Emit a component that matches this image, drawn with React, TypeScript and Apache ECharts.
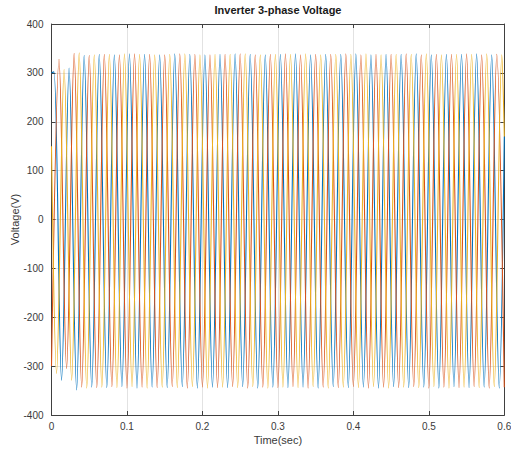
import React, { useEffect, useRef } from "react";
import * as echarts from "echarts";

// Time window and sampling of the waveform extremes (peaks / troughs)
const timeStart = 0;
const timeEnd = 0.6;
const halfPeriod = 0.01; // 50 Hz -> extremes every 10 ms

const xTicks = ["0", "0.1", "0.2", "0.3", "0.4", "0.5", "0.6"];
const yTicks = [-400, -300, -200, -100, 0, 100, 200, 300, 400];

// Phase A (blue)
const phaseAStartValue = 300;
const phaseAFirstExtremeTime = 0.0033;
const phaseAExtremes = [302, -329, 310, -349, 336, -343, 338, -344, 337, -342, 339, -345, 338, -343, 337, -344, 339, -342, 338, -345, 337, -343, 338, -344, 339, -342, 338, -345, 337, -343, 338, -344, 339, -343, 337, -345, 338, -342, 338, -344, 339, -343, 337, -345, 338, -342, 338, -344, 339, -343, 337, -345, 338, -342, 338, -344, 339, -343, 337, -345];
const phaseAEndValue = 170;

// Phase B (orange)
const phaseBStartValue = -300;
const phaseBFirstExtremeTime = 0.0;
const phaseBExtremes = [-300, 328, -305, 340, -343, 336, -344, 338, -342, 337, -345, 339, -343, 338, -344, 337, -342, 339, -345, 338, -343, 337, -344, 338, -342, 339, -345, 337, -343, 338, -344, 339, -342, 337, -345, 338, -343, 338, -344, 339, -342, 337, -345, 338, -343, 338, -344, 339, -342, 337, -345, 338, -343, 338, -344, 339, -342, 337, -345, 338, -343];
const phaseBEndValue = -343;

// Phase C (yellow)
const phaseCStartValue = 150;
const phaseCFirstExtremeTime = 0.0067;
const phaseCExtremes = [-315, 307, -329, 341, -345, 337, -343, 338, -344, 339, -342, 338, -345, 337, -343, 338, -344, 339, -342, 337, -345, 338, -343, 338, -344, 339, -342, 337, -345, 338, -343, 338, -344, 339, -342, 337, -345, 338, -343, 338, -344, 339, -342, 337, -345, 338, -343, 338, -344, 339, -342, 337, -345, 338, -343, 338, -344, 339, -342, 337];
const phaseCEndValue = 170;

function buildSeriesData(startValue: number, firstTime: number, extremes: number[], endValue: number) {
  const pts: [number, number][] = [];
  if (firstTime > timeStart + 1e-9) pts.push([timeStart, startValue]);
  extremes.forEach((v, i) => {
    const t = +(firstTime + i * halfPeriod).toFixed(5);
    if (t <= timeEnd + 1e-9) pts.push([t, v]);
  });
  if (pts[pts.length - 1][0] < timeEnd - 1e-9) pts.push([timeEnd, endValue]);
  return pts;
}

const FONT = "'Liberation Sans', Arial, Helvetica, sans-serif";
const AXIS_COLOR = "#404040";
const LABEL_COLOR = "#3a3a3a";
const GRID_COLOR = "#e2e2e2";

export default function App() {
  const ref = useRef<HTMLDivElement>(null);

  useEffect(() => {
    if (!ref.current) return;
    const chart = echarts.init(ref.current, undefined, { renderer: "svg" });

    const lineStyleBase = { width: 1.1 };
    const grid = { left: 51.5, right: 6.7, top: 24, bottom: 36, containLabel: false, outerBoundsMode: "none" };

    const baseX = {
      type: "value",
      min: 0,
      max: 0.6,
      interval: 0.1,
      axisLine: { show: true, onZero: false, lineStyle: { color: AXIS_COLOR, width: 1 } },
      axisTick: { show: true, inside: true, length: 4, lineStyle: { color: AXIS_COLOR } },
    };
    const baseY = {
      type: "value",
      min: -400,
      max: 400,
      interval: 100,
      axisLine: { show: true, onZero: false, lineStyle: { color: AXIS_COLOR, width: 1 } },
      axisTick: { show: true, inside: true, length: 4, lineStyle: { color: AXIS_COLOR } },
    };

    chart.setOption({
      animation: false,
      backgroundColor: "#ffffff",
      grid,
      graphic: [
        {
          type: "text",
          x: 278,
          y: 10,
          style: {
            text: "Inverter 3-phase Voltage",
            font: `bold 11px ${FONT}`,
            fill: "#1a1a1a",
            align: "center",
            verticalAlign: "middle",
          },
        },
      ],
      xAxis: [
        {
          ...baseX,
          position: "bottom",
          name: "Time(sec)",
          nameLocation: "middle",
          nameGap: 19,
          nameMoveOverlap: false,
          nameTextStyle: { fontFamily: FONT, fontSize: 11, color: LABEL_COLOR },
          axisLabel: {
            fontFamily: FONT,
            fontSize: 10,
            color: LABEL_COLOR,
            margin: 6,
            formatter: (v: number) => xTicks[Math.round(v * 10)] ?? "",
          },
          splitLine: { show: true, lineStyle: { color: GRID_COLOR, width: 1 } },
        },
        {
          ...baseX,
          position: "top",
          axisLabel: { show: false },
          splitLine: { show: false },
        },
      ],
      yAxis: [
        {
          ...baseY,
          position: "left",
          name: "Voltage(V)",
          nameLocation: "middle",
          nameGap: 31,
          nameMoveOverlap: false,
          nameTextStyle: { fontFamily: FONT, fontSize: 11, color: LABEL_COLOR },
          axisLabel: {
            fontFamily: FONT,
            fontSize: 10,
            color: LABEL_COLOR,
            margin: 8,
            formatter: (v: number) => (yTicks.includes(v) ? String(v) : ""),
          },
          splitLine: { show: true, lineStyle: { color: GRID_COLOR, width: 1 } },
        },
        {
          ...baseY,
          position: "right",
          axisLabel: { show: false },
          splitLine: { show: false },
        },
      ],
      series: [
        {
          name: "Va",
          type: "line",
          data: buildSeriesData(phaseAStartValue, phaseAFirstExtremeTime, phaseAExtremes, phaseAEndValue),
          showSymbol: false,
          smooth: 0.33,
          lineStyle: { ...lineStyleBase, color: "#0072BD" },
          xAxisIndex: 0,
          yAxisIndex: 0,
          clip: true,
        },
        {
          name: "Vb",
          type: "line",
          data: buildSeriesData(phaseBStartValue, phaseBFirstExtremeTime, phaseBExtremes, phaseBEndValue),
          showSymbol: false,
          smooth: 0.33,
          lineStyle: { ...lineStyleBase, color: "#D95319" },
          xAxisIndex: 0,
          yAxisIndex: 0,
          clip: true,
        },
        {
          name: "Vc",
          type: "line",
          data: buildSeriesData(phaseCStartValue, phaseCFirstExtremeTime, phaseCExtremes, phaseCEndValue),
          showSymbol: false,
          smooth: 0.33,
          lineStyle: { ...lineStyleBase, color: "#EDB120" },
          xAxisIndex: 0,
          yAxisIndex: 0,
          clip: true,
        },
      ],
    });

    return () => chart.dispose();
  }, []);

  return (
    <div
      ref={ref}
      style={{ position: "fixed", left: 0, top: 0, width: 511, height: 451, background: "#fff" }}
    />
  );
}
